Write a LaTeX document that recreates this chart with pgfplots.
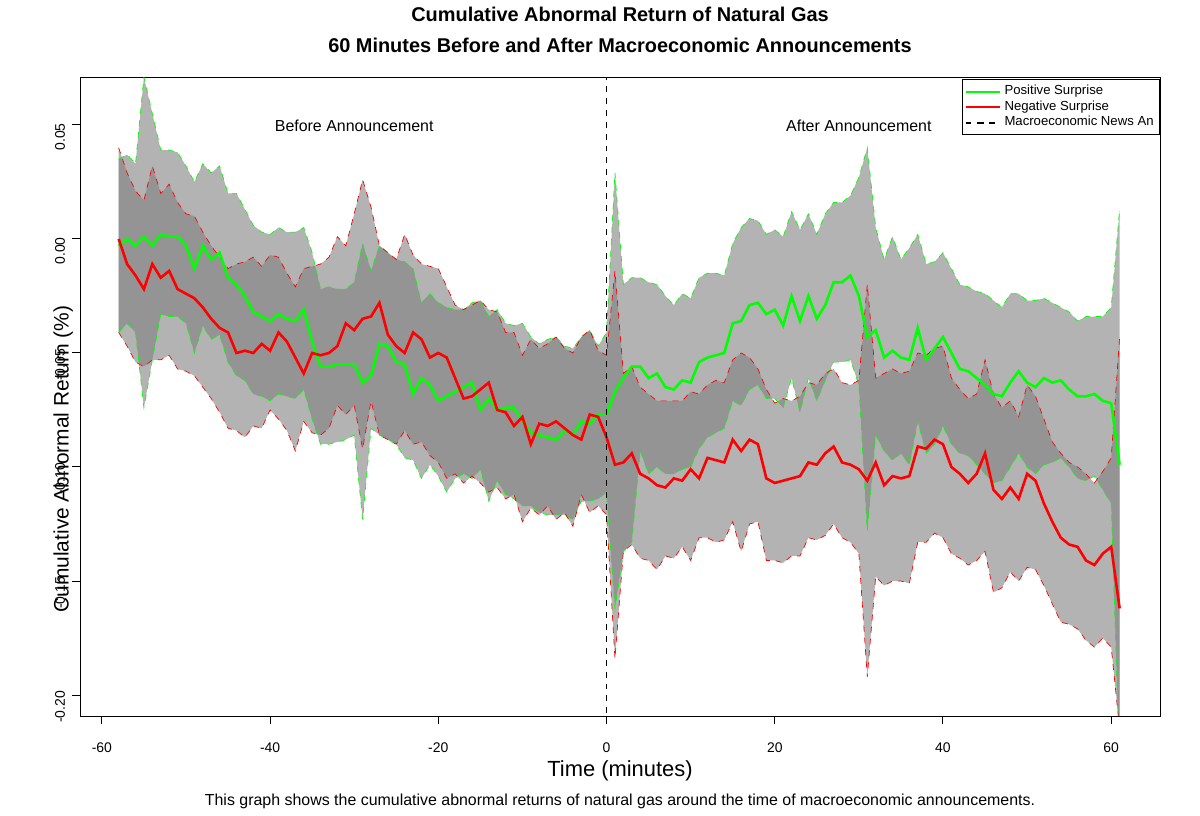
\documentclass[border=0pt]{standalone}
\usepackage{pgfplots}
\pgfplotsset{compat=1.18}
\usepackage{pgfplotstable}
\usepgfplotslibrary{fillbetween}
\usetikzlibrary{calc}
\usepackage{fontspec}
\setmainfont{Liberation Sans}
\definecolor{rgreen}{RGB}{0,255,0}
\definecolor{rred}{RGB}{255,0,0}
\pgfplotstableread{
x gm gu gl rm ru rl
-58 -0.003 0.035 -0.041 0.000 0.040 -0.041
-57 0.000 0.037 -0.037 -0.011 0.029 -0.047
-56 -0.003 0.033 -0.041 -0.016 0.021 -0.054
-55 0.001 0.071 -0.074 -0.022 0.017 -0.056
-54 -0.003 0.055 -0.053 -0.011 0.032 -0.053
-53 0.002 0.039 -0.033 -0.017 0.020 -0.053
-52 0.001 0.039 -0.034 -0.014 0.024 -0.051
-51 0.001 0.038 -0.034 -0.022 0.016 -0.057
-50 -0.003 0.032 -0.037 -0.024 0.011 -0.058
-49 -0.013 0.025 -0.050 -0.026 0.010 -0.060
-48 -0.003 0.033 -0.038 -0.030 0.003 -0.065
-47 -0.009 0.029 -0.044 -0.035 -0.003 -0.070
-46 -0.006 0.032 -0.042 -0.039 -0.008 -0.076
-45 -0.017 0.020 -0.054 -0.041 -0.013 -0.083
-44 -0.020 0.020 -0.060 -0.050 -0.011 -0.084
-43 -0.025 0.013 -0.062 -0.049 -0.010 -0.087
-42 -0.032 0.006 -0.068 -0.050 -0.008 -0.082
-41 -0.034 0.003 -0.069 -0.046 -0.012 -0.083
-40 -0.036 0.002 -0.071 -0.049 -0.007 -0.075
-39 -0.033 0.005 -0.068 -0.041 -0.008 -0.079
-38 -0.035 0.003 -0.069 -0.045 -0.015 -0.084
-37 -0.036 0.003 -0.070 -0.052 -0.021 -0.093
-36 -0.031 0.005 -0.066 -0.059 -0.013 -0.080
-35 -0.045 -0.006 -0.079 -0.050 -0.012 -0.085
-34 -0.056 -0.022 -0.090 -0.051 -0.011 -0.086
-33 -0.056 -0.021 -0.090 -0.050 -0.008 -0.083
-32 -0.055 -0.022 -0.089 -0.047 0.001 -0.073
-31 -0.055 -0.022 -0.088 -0.037 -0.003 -0.077
-30 -0.055 -0.019 -0.086 -0.040 0.011 -0.073
-29 -0.063 -0.002 -0.123 -0.035 0.026 -0.092
-28 -0.060 -0.014 -0.083 -0.034 0.014 -0.071
-27 -0.046 -0.003 -0.086 -0.028 -0.003 -0.086
-26 -0.047 -0.006 -0.088 -0.042 -0.006 -0.088
-25 -0.054 -0.009 -0.090 -0.047 -0.009 -0.090
-24 -0.055 -0.010 -0.096 -0.050 0.002 -0.084
-23 -0.068 -0.013 -0.097 -0.041 -0.007 -0.090
-22 -0.061 -0.028 -0.105 -0.044 -0.011 -0.089
-21 -0.064 -0.024 -0.099 -0.052 -0.012 -0.095
-20 -0.071 -0.028 -0.104 -0.050 -0.013 -0.098
-19 -0.069 -0.030 -0.111 -0.052 -0.021 -0.105
-18 -0.067 -0.031 -0.105 -0.061 -0.029 -0.103
-17 -0.065 -0.031 -0.103 -0.070 -0.031 -0.107
-16 -0.063 -0.028 -0.105 -0.069 -0.029 -0.104
-15 -0.075 -0.027 -0.101 -0.066 -0.027 -0.107
-14 -0.070 -0.034 -0.115 -0.063 -0.031 -0.111
-13 -0.075 -0.031 -0.106 -0.075 -0.032 -0.109
-12 -0.074 -0.037 -0.112 -0.076 -0.041 -0.114
-11 -0.074 -0.038 -0.114 -0.082 -0.041 -0.112
-10 -0.080 -0.037 -0.117 -0.078 -0.051 -0.124
-9 -0.085 -0.043 -0.117 -0.090 -0.044 -0.118
-8 -0.086 -0.046 -0.120 -0.081 -0.048 -0.121
-7 -0.087 -0.044 -0.121 -0.082 -0.046 -0.117
-6 -0.088 -0.043 -0.121 -0.080 -0.043 -0.123
-5 -0.084 -0.047 -0.121 -0.083 -0.048 -0.120
-4 -0.086 -0.048 -0.123 -0.086 -0.050 -0.126
-3 -0.080 -0.043 -0.115 -0.088 -0.043 -0.112
-2 -0.081 -0.040 -0.115 -0.077 -0.040 -0.120
-1 -0.077 -0.047 -0.114 -0.078 -0.049 -0.117
0 -0.077 -0.041 -0.111 -0.087 -0.051 -0.121
1 -0.067 0.029 -0.162 -0.099 -0.014 -0.184
2 -0.061 -0.020 -0.137 -0.098 -0.059 -0.137
3 -0.056 -0.017 -0.133 -0.094 -0.056 -0.134
4 -0.056 -0.017 -0.093 -0.103 -0.065 -0.140
5 -0.061 -0.019 -0.103 -0.105 -0.068 -0.141
6 -0.059 -0.020 -0.100 -0.108 -0.071 -0.145
7 -0.065 -0.025 -0.103 -0.109 -0.071 -0.139
8 -0.066 -0.029 -0.103 -0.105 -0.071 -0.140
9 -0.062 -0.024 -0.101 -0.106 -0.071 -0.135
10 -0.063 -0.026 -0.100 -0.101 -0.067 -0.141
11 -0.054 -0.017 -0.092 -0.105 -0.068 -0.131
12 -0.052 -0.015 -0.087 -0.096 -0.064 -0.131
13 -0.051 -0.015 -0.085 -0.097 -0.062 -0.133
14 -0.050 -0.016 -0.083 -0.098 -0.063 -0.132
15 -0.037 -0.002 -0.071 -0.088 -0.053 -0.124
16 -0.036 0.005 -0.073 -0.093 -0.050 -0.137
17 -0.029 0.009 -0.066 -0.088 -0.052 -0.125
18 -0.028 0.008 -0.064 -0.090 -0.057 -0.124
19 -0.033 0.002 -0.070 -0.105 -0.066 -0.141
20 -0.031 0.004 -0.070 -0.107 -0.072 -0.141
21 -0.038 0.001 -0.074 -0.106 -0.070 -0.142
22 -0.025 0.012 -0.061 -0.105 -0.071 -0.139
23 -0.036 0.004 -0.076 -0.104 -0.069 -0.139
24 -0.025 0.011 -0.061 -0.098 -0.063 -0.131
25 -0.035 0.002 -0.071 -0.099 -0.064 -0.132
26 -0.029 0.011 -0.062 -0.094 -0.059 -0.130
27 -0.019 0.016 -0.054 -0.091 -0.057 -0.125
28 -0.019 0.016 -0.054 -0.098 -0.063 -0.131
29 -0.016 0.019 -0.053 -0.099 -0.064 -0.133
30 -0.025 0.027 -0.064 -0.101 -0.062 -0.138
31 -0.043 0.040 -0.128 -0.106 -0.020 -0.192
32 -0.040 0.005 -0.086 -0.098 -0.061 -0.148
33 -0.052 -0.009 -0.093 -0.108 -0.059 -0.152
34 -0.049 0.001 -0.097 -0.104 -0.057 -0.150
35 -0.052 -0.009 -0.094 -0.105 -0.059 -0.150
36 -0.053 -0.004 -0.099 -0.104 -0.058 -0.151
37 -0.039 0.002 -0.080 -0.091 -0.050 -0.133
38 -0.053 -0.011 -0.094 -0.092 -0.051 -0.133
39 -0.048 -0.010 -0.090 -0.088 -0.048 -0.129
40 -0.043 -0.006 -0.082 -0.090 -0.047 -0.131
41 -0.050 -0.013 -0.090 -0.100 -0.061 -0.138
42 -0.057 -0.020 -0.094 -0.103 -0.066 -0.140
43 -0.058 -0.021 -0.095 -0.107 -0.070 -0.143
44 -0.061 -0.023 -0.099 -0.103 -0.068 -0.141
45 -0.064 -0.024 -0.103 -0.094 -0.053 -0.137
46 -0.068 -0.027 -0.107 -0.110 -0.068 -0.155
47 -0.069 -0.030 -0.106 -0.114 -0.074 -0.153
48 -0.063 -0.024 -0.100 -0.109 -0.071 -0.146
49 -0.058 -0.024 -0.094 -0.114 -0.078 -0.150
50 -0.063 -0.027 -0.100 -0.103 -0.064 -0.144
51 -0.065 -0.027 -0.103 -0.106 -0.069 -0.145
52 -0.061 -0.026 -0.099 -0.116 -0.079 -0.152
53 -0.063 -0.028 -0.098 -0.124 -0.089 -0.160
54 -0.062 -0.030 -0.096 -0.131 -0.094 -0.168
55 -0.066 -0.032 -0.100 -0.134 -0.098 -0.169
56 -0.069 -0.036 -0.105 -0.135 -0.100 -0.171
57 -0.069 -0.034 -0.106 -0.141 -0.103 -0.176
58 -0.068 -0.034 -0.104 -0.143 -0.107 -0.179
59 -0.071 -0.034 -0.110 -0.138 -0.102 -0.175
60 -0.072 -0.030 -0.116 -0.135 -0.096 -0.179
61 -0.099 0.013 -0.230 -0.162 -0.043 -0.215
}\data
\begin{document}
\begin{tikzpicture}
\begin{axis}[
  scale only axis, width=540bp, height=319bp,
  xmin=-62.6, xmax=65.8, ymin=-0.2092, ymax=0.0706,
  axis line style={line width=0.5bp},
  xtick={-60,-40,...,60},
  xticklabels={-60,-40,-20,0,20,40,60},
  ytick={0.05,0,-0.05,-0.1,-0.15,-0.2},
  yticklabels={0.05,0.00,-0.05,-0.10,-0.15,-0.20},
  yticklabel style={rotate=90, anchor=south},
  tick align=outside, tick pos=left,
  major tick length=4bp,
  tick style={black, line width=0.5bp},
  ticklabel style={font=\fontsize{7}{8}\selectfont},
  xticklabel style={yshift=-6bp},
  yticklabel style={xshift=-6bp},
  xlabel={Time (minutes)},
  xlabel style={font=\fontsize{11}{12}\selectfont, at={(rel axis cs:0.5,0)}, anchor=north, yshift=-19bp},
  ylabel={Cumulative Abnormal Return (\%)},
  ylabel style={font=\fontsize{10.5}{12}\selectfont, at={(rel axis cs:0,0.5)}, anchor=south, xshift=-31bp},
  title={Cumulative Abnormal Return of Natural Gas\\60 Minutes Before and After Macroeconomic Announcements},
  title style={font=\bfseries\fontsize{10}{15.5}\selectfont, align=center, yshift=3bp},
  legend style={at={(rel axis cs:1,1)}, anchor=north east, font=\fontsize{6.6}{6.6}\selectfont,
    draw=black, line width=0.4bp, inner sep=1bp, row sep=-2.5bp, xshift=0bp, yshift=-0.5bp,
    cells={anchor=west}},
  legend image post style={line width=1bp},
]
\addlegendimage{rgreen, line width=1.2bp}
\addlegendentry{Positive Surprise\hspace{9bp}}
\addlegendimage{rred, line width=1.2bp}
\addlegendentry{Negative Surprise}
\addlegendimage{black, dashed, line width=0.8bp}
\addlegendentry{Macroeconomic News An}
\addplot[draw=none, name path=GU, forget plot] table[x=x, y=gu] {\data};
\addplot[draw=none, name path=GL, forget plot] table[x=x, y=gl] {\data};
\addplot[draw=none, name path=RU, forget plot] table[x=x, y=ru] {\data};
\addplot[draw=none, name path=RL, forget plot] table[x=x, y=rl] {\data};
\addplot[fill=gray, fill opacity=0.6, draw=none, forget plot] fill between[of=GU and GL];
\addplot[fill=gray, fill opacity=0.6, draw=none, forget plot] fill between[of=RU and RL];
\addplot[rgreen, dashed, line width=0.35bp, forget plot] table[x=x, y=gu] {\data};
\addplot[rgreen, dashed, line width=0.35bp, forget plot] table[x=x, y=gl] {\data};
\addplot[rred, dashed, line width=0.35bp, forget plot] table[x=x, y=ru] {\data};
\addplot[rred, dashed, line width=0.35bp, forget plot] table[x=x, y=rl] {\data};
\addplot[rgreen, line width=1.3bp, forget plot] table[x=x, y=gm] {\data};
\addplot[rred, line width=1.3bp, forget plot] table[x=x, y=rm] {\data};
\addplot[black, dashed, line width=0.8bp, forget plot] coordinates {(0,-0.25) (0,0.1)};
\node[font=\fontsize{8}{9}\selectfont] at (axis cs:-30,0.0495) {Before Announcement};
\node[font=\fontsize{8}{9}\selectfont] at (axis cs:30,0.0495) {After Announcement};
\coordinate (SW) at (rel axis cs:0,0);
\coordinate (NE) at (rel axis cs:1,1);
\end{axis}
\node[font=\fontsize{8}{9}\selectfont] at ([yshift=-42.5bp]$(SW)!0.5!(SW-|NE)$) {This graph shows the cumulative abnormal returns of natural gas around the time of macroeconomic announcements.};
\pgfresetboundingbox
\path ([shift={(-40bp,-50bp)}]SW) rectangle ([shift={(20bp,39bp)}]NE);
\end{tikzpicture}
\end{document}
